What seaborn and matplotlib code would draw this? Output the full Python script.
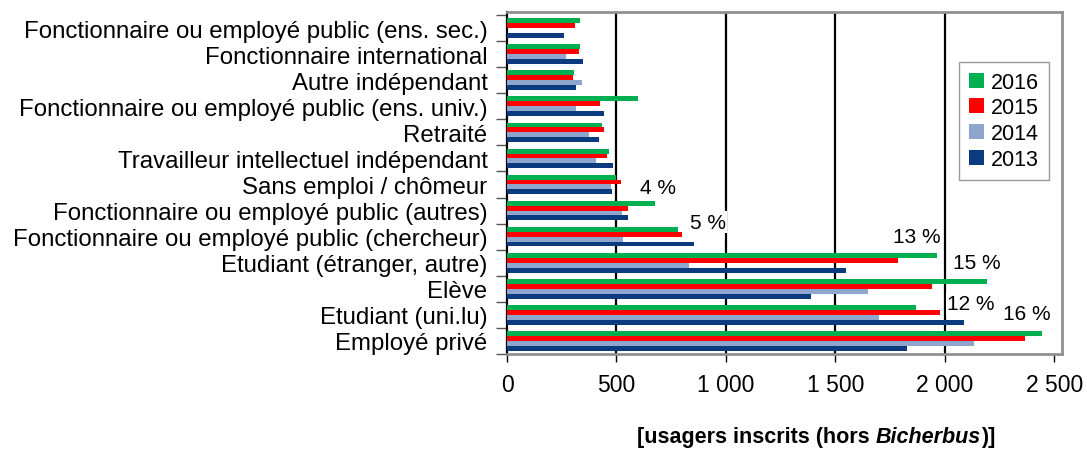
import numpy as np
import pandas as pd
import matplotlib
matplotlib.use("Agg")
import matplotlib.pyplot as plt
import seaborn as sns
from matplotlib.ticker import FuncFormatter

categories = [
    "Fonctionnaire ou employé public (ens. sec.)",
    "Fonctionnaire international",
    "Autre indépendant",
    "Fonctionnaire ou employé public (ens. univ.)",
    "Retraité",
    "Travailleur intellectuel indépendant",
    "Sans emploi / chômeur",
    "Fonctionnaire ou employé public (autres)",
    "Fonctionnaire ou employé public (chercheur)",
    "Etudiant (étranger, autre)",
    "Elève",
    "Etudiant (uni.lu)",
    "Employé privé",
]
years = ["2016", "2015", "2014", "2013"]
v2016 = [333, 333, 306, 598, 434, 466, 498, 676, 781, 1965, 2193, 1867, 2443]
v2015 = [311, 329, 301, 425, 443, 457, 521, 553, 799, 1787, 1943, 1976, 2365]
v2014 = [0, 269, 342, 315, 374, 406, 475, 525, 530, 831, 1649, 1701, 2133]
v2013 = [260, 347, 315, 443, 420, 484, 479, 553, 854, 1549, 1390, 2086, 1829]
pct_labels = ["4 %", "5 %", "13 %", "15 %", "12 %", "16 %"]
xticks = [0, 500, 1000, 1500, 2000, 2500]
gridlines = [500, 1000, 1500, 2000]

colors = ["#00B050", "#FF0000", "#8EA6CE", "#0B3A7E"]

series = {"2016": v2016, "2015": v2015, "2014": v2014, "2013": v2013}
rows = []
for y in years:
    for c, v in zip(categories, series[y]):
        rows.append({"cat": c, "year": y, "value": v})
df = pd.DataFrame(rows)

sns.set_theme(style="white")
plt.rcParams["font.family"] = ["Liberation Sans", "DejaVu Sans"]
plt.rcParams["text.color"] = "black"
plt.rcParams["xtick.labelcolor"] = "black"
plt.rcParams["ytick.labelcolor"] = "black"

fig = plt.figure(figsize=(10.87, 4.77), dpi=100)
ax = fig.add_axes([507 / 1087, 1 - 355 / 477, (1062 - 507) / 1087, (355 - 13) / 477])

sns.barplot(data=df, y="cat", x="value", hue="year", order=categories,
            hue_order=years, palette=colors, orient="h", width=0.75,
            saturation=1, linewidth=0, ax=ax, zorder=3)

ax.set_xlim(0, 2535)
ax.set_ylim(12.386, -0.614)
ax.set_xticks(xticks)
ax.xaxis.set_major_formatter(FuncFormatter(lambda v, p: f"{int(v):,}".replace(",", " ")))
ax.tick_params(axis="x", direction="out", length=6, width=1, color="black",
               labelsize=16.5, pad=8, bottom=True)
ax.set_yticks(np.arange(-0.5, 13, 1), minor=True)
ax.tick_params(axis="y", which="major", length=0, labelsize=17.3, pad=14)
ax.tick_params(axis="y", which="minor", direction="out", length=8, width=1,
               color="#555555", left=True)
ax.set_xlabel("")
ax.set_ylabel("")

for g in gridlines:
    ax.axvline(g, color="black", linewidth=1.6, zorder=0)
for side in ["top", "right", "bottom"]:
    ax.spines[side].set_color("#909090")
    ax.spines[side].set_linewidth(2)
ax.spines["left"].set_color("black")
ax.spines["left"].set_linewidth(1.6)

# percent annotations
pct_pos = [(689, 6.11), (918, 7.44), (1870, 7.98), (2146, 9.0), (2119, 10.56), (2374, 10.94)]
for lab, (px, py) in zip(pct_labels, pct_pos):
    ax.text(px, py, lab, ha="center", va="center", fontsize=15, zorder=5,
            color="black", bbox=dict(facecolor="white", edgecolor="none", pad=1))

ax.legend(loc="upper left", bbox_to_anchor=(959 / 1087, 1 - 63 / 477),
          bbox_transform=fig.transFigure, fontsize=15.5, frameon=True,
          fancybox=False, edgecolor="#808080", handlelength=0.7,
          handleheight=0.7, labelspacing=0.22, handletextpad=0.35,
          borderpad=0.45, borderaxespad=0, title=None)
leg = ax.get_legend()
leg.get_frame().set_linewidth(1)

# x-axis caption with bold italic part
t1 = fig.text(637 / 1087, 1 - 443 / 477, "[usagers inscrits (hors ", fontsize=15.5,
              fontweight="bold", va="baseline", ha="left")
t2 = fig.text(0, 0, "Bicherbus", fontsize=15.5, fontweight="bold",
              fontstyle="italic", va="baseline")
t3 = fig.text(0, 0, ")]", fontsize=15.5, fontweight="bold", va="baseline")
fig.canvas.draw()
r = fig.canvas.get_renderer()
bb1 = t1.get_window_extent(r)
t2.set_position((bb1.x1 / fig.bbox.width, t1.get_position()[1]))
fig.canvas.draw()
bb2 = t2.get_window_extent(r)
t3.set_position((bb2.x1 / fig.bbox.width, t1.get_position()[1]))

fig.savefig("out.png", dpi=100)
